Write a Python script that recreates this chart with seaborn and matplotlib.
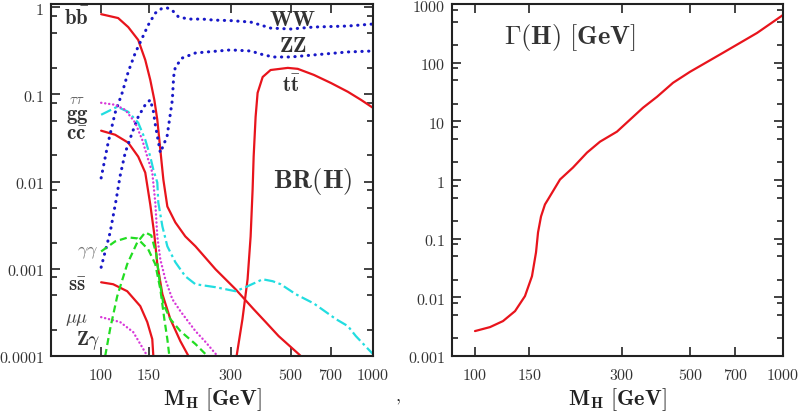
import matplotlib
matplotlib.use('Agg')
import matplotlib.pyplot as plt
import seaborn as sns
from matplotlib.ticker import FixedLocator, NullLocator, LogLocator, NullFormatter

# --- branching ratios BR(H) (M_H in GeV) ---
m_bb = [100, 115.5, 125.8, 136.9, 145.3, 151.6, 156.9, 160.9, 163.7, 166.5, 169.4, 175.2, 187.5,
        204, 222.3, 263.5, 312.2, 363.9, 402.9, 449.8, 533.3, 542]
br_bb = [0.83, 0.749, 0.59, 0.42, 0.248, 0.1465, 0.0865, 0.0511, 0.0302, 0.0178, 0.0105, 0.00518,
         0.0034, 0.00235, 0.00181, 9.87e-4, 5.83e-4, 3.44e-4, 2.45e-4, 1.69e-4, 1.05e-4, 1e-4]

m_cc = [100, 112.6, 125.8, 136.9, 145.3, 151.6, 156.9, 160.9, 168, 179.7, 195.6, 209.5]
br_cc = [0.0383, 0.0344, 0.0279, 0.0193, 0.01267, 0.00546, 0.00248, 0.00113, 5.11e-4, 2.65e-4,
         1.48e-4, 1e-4]

m_ss = [100, 110.7, 124.7, 139.3, 147.8, 154.2, 155.6]
br_ss = [7.0e-4, 6.65e-4, 5.53e-4, 3.73e-4, 2.45e-4, 1.56e-4, 1e-4]

m_tt = [315, 331, 345.7, 354.7, 360.7, 363.9, 370, 376.3, 392.8, 420, 485.9, 528.7, 606, 700,
        808, 903, 1000]
br_tt = [1e-4, 2.65e-4, 7.6e-4, 2.35e-3, 8.1e-3, 0.0193, 0.0553, 0.104, 0.158, 0.19, 0.201,
         0.196, 0.167, 0.135, 0.107, 0.0865, 0.070]

m_ww = [100, 106.1, 112.6, 119.5, 125.8, 133.5, 141.6, 149, 158.2, 167.5, 174.8, 182.3, 192.3,
        209.4, 235.9, 259, 300, 354.7, 386.2, 420.4, 498.3, 606, 808.6, 1000]
br_ww = [0.011, 0.0279, 0.0615, 0.104, 0.181, 0.298, 0.442, 0.623, 0.854, 0.97, 0.98, 0.924,
         0.775, 0.729, 0.729, 0.71, 0.70, 0.674, 0.623, 0.575, 0.561, 0.591, 0.607, 0.64]

m_zz = [100, 107.9, 113.6, 117.5, 122.6, 130.1, 136.9, 145.3, 151.6, 155.5, 158.2, 165.1, 174.8,
        182.8, 184.8, 187.5, 199, 222.3, 299.2, 354.7, 396.2, 431.3, 498.3, 606, 808.6, 1000]
br_zz = [0.00104, 0.00261, 0.00622, 0.0117, 0.0214, 0.0363, 0.0553, 0.0759, 0.0865, 0.065,
         0.045, 0.0214, 0.033, 0.0865, 0.16, 0.206, 0.261, 0.298, 0.323, 0.314, 0.283, 0.268,
         0.268, 0.283, 0.306, 0.314]

m_gg = [100, 114.6, 125.8, 136.9, 145.3, 151.6, 155.6, 160.9, 162.3, 168, 175.2, 187.5, 204,
        222.3, 263.5, 312.2, 339.7, 392.8, 427.6, 457.7, 519.9, 606, 730.3, 808.6, 865, 1000]
br_gg = [0.0583, 0.072, 0.063, 0.0472, 0.0302, 0.0193, 0.0137, 0.00975, 0.00575, 0.00306,
         0.00181, 0.00119, 8.2e-4, 6.65e-4, 6.15e-4, 5.53e-4, 6.15e-4, 7.58e-4, 7.2e-4, 6.65e-4,
         5.11e-4, 4.0e-4, 2.65e-4, 2.2e-4, 1.69e-4, 1.05e-4]

m_tau = [100, 112.6, 122.6, 133.5, 141.6, 147.8, 154.2, 158.2, 160.9, 165.1, 172.2, 182.8, 195.6,
         222.3, 242, 267.9]
br_tau = [0.08, 0.0759, 0.0665, 0.0472, 0.0302, 0.0193, 0.0127, 0.00575, 0.00235, 0.00128,
          7.58e-4, 4.48e-4, 3.27e-4, 1.93e-4, 1.45e-4, 1e-4]

m_mu = [100, 117.5, 131.2, 142.9, 147.8]
br_mu = [2.79e-4, 2.45e-4, 1.88e-4, 1.2e-4, 1e-4]

m_gaga = [100, 112.6, 125.8, 135.9, 149, 158.2, 165.1, 170.8, 175.2, 178.2]
br_gaga = [0.00158, 0.00206, 0.00229, 0.00223, 0.00167, 0.00113, 5.83e-4, 2.65e-4, 1.56e-4, 1e-4]

m_zga = [103.5, 107.9, 114.6, 124.7, 135.8, 145.3, 152.9, 159.6, 163.7, 169.4, 179.7, 195.6,
         222.3, 246]
br_zga = [1e-4, 2.04e-4, 4.85e-4, 0.00113, 0.00201, 0.00261, 0.00241, 0.00147, 7.58e-4, 3.93e-4,
          2.65e-4, 1.93e-4, 1.37e-4, 1e-4]

# --- total width Gamma(H) in GeV ---
m_width = [100, 111.9, 123.3, 134.9, 145.3, 153.1, 157.8, 160.2, 163.8, 168.7, 172.6, 188.8, 208,
           231, 254.6, 289, 351.3, 389.9, 439.5, 498.8, 638, 823.6, 1000]
gamma_h = [0.00266, 0.00311, 0.00394, 0.00582, 0.0105, 0.0229, 0.0585, 0.128, 0.239, 0.383,
           0.466, 1.02, 1.63, 2.93, 4.5, 6.67, 17.1, 26.2, 45.4, 69.8, 147, 321, 650]

x_ticks = [100, 150, 300, 500, 700, 1000]
br_ticks = [1e-4, 1e-3, 1e-2, 1e-1, 1]
br_labels = ['0.0001', '0.001', '0.01', '0.1', '1']
w_ticks = [1e-3, 1e-2, 1e-1, 1, 10, 100, 1000]
w_labels = ['0.001', '0.01', '0.1', '1', '10', '100', '1000']

sns.set_style('ticks')
plt.rcParams['mathtext.fontset'] = 'cm'
plt.rcParams['font.family'] = ['DejaVu Serif']

RED = '#e8141c'
BLUE = '#1818c8'
CYAN = '#22dde0'
MAGENTA = '#d838d8'
GREEN = '#22dd22'
INK = '#222222'


def mt(s):
    return r'$\mathrm{' + s + '}$'


def style_axis(ax, yticks, ylabels, xlim, ylim):
    ax.set_xscale('log')
    ax.set_yscale('log')
    ax.set_xlim(*xlim)
    ax.set_ylim(*ylim)
    ax.xaxis.set_major_locator(FixedLocator(x_ticks))
    ax.xaxis.set_minor_locator(NullLocator())
    ax.set_xticks(x_ticks, labels=[mt(str(v)) for v in x_ticks])
    ax.set_yticks(yticks, labels=[mt(s) for s in ylabels])
    ax.yaxis.set_minor_locator(LogLocator(base=10, subs=(2, 5, 8), numticks=30))
    ax.yaxis.set_minor_formatter(NullFormatter())
    ax.tick_params(which='both', direction='in', top=True, right=True, width=1.2,
                   color=INK, labelcolor='#333333', labelsize=11.5)
    ax.tick_params(which='major', length=6.5)
    ax.tick_params(which='minor', length=4.5)
    ax.tick_params(axis='y', pad=5)
    ax.tick_params(axis='x', pad=7)
    for sp in ax.spines.values():
        sp.set_linewidth(1.5)
        sp.set_color(INK)
    ax.set_xlabel(r'$\mathbf{M_H\ [GeV]}$', fontsize=16, color=INK, labelpad=2)
    ax.set_ylabel('')


fig = plt.figure(figsize=(8.02, 4.14), dpi=100)
ax1 = fig.add_axes([51 / 802, 57 / 414, 322 / 802, 352.5 / 414])
ax2 = fig.add_axes([452 / 802, 57 / 414, 331 / 802, 352.5 / 414])

style_axis(ax1, br_ticks, br_labels, (65.4, 1000), (1e-4, 1.1))
style_axis(ax2, w_ticks, w_labels, (84.2, 1000), (1e-3, 1.02e3))

solid = dict(linestyle='-', lw=1.6)
dotted = dict(linestyle=(0, (0.1, 2.1)), lw=2.2, dash_capstyle='round')
fine_dot = dict(linestyle=(0, (0.1, 1.6)), lw=1.7, dash_capstyle='round')
dashed = dict(linestyle=(0, (3.2, 1.8)), lw=1.6)
dashdot = dict(linestyle=(0, (5, 1.6, 1.2, 1.6)), lw=1.6)

curves = [
    (m_bb, br_bb, RED, solid),
    (m_cc, br_cc, RED, solid),
    (m_ss, br_ss, RED, solid),
    (m_tt, br_tt, RED, solid),
    (m_ww, br_ww, BLUE, dotted),
    (m_zz, br_zz, BLUE, dotted),
    (m_gg, br_gg, CYAN, dashdot),
    (m_tau, br_tau, MAGENTA, fine_dot),
    (m_mu, br_mu, MAGENTA, fine_dot),
    (m_gaga, br_gaga, GREEN, dashed),
    (m_zga, br_zga, GREEN, dashed),
]
for m, br, col, st in curves:
    sns.lineplot(x=m, y=br, ax=ax1, color=col, estimator=None, sort=False, **st)

sns.lineplot(x=m_width, y=gamma_h, ax=ax2, color=RED, estimator=None, sort=False, **solid)

# channel labels
lab = dict(ha='center', va='center', color='#333333')
ax1.text(81.5, 0.77, r'$\mathbf{b\bar{b}}$', fontsize=15, **lab)
ax1.text(81.5, 0.089, r'$\tau\tau$', fontsize=10.5, ha='center', va='center', color='#666666')
ax1.text(81.5, 0.057, r'$\mathbf{gg}$', fontsize=15, **lab)
ax1.text(81.5, 0.036, r'$\mathbf{c\bar{c}}$', fontsize=15, **lab)
ax1.text(88.8, 0.0016, r'$\gamma\gamma$', fontsize=13, ha='center', va='center', color='#777777')
ax1.text(81.5, 6.6e-4, r'$\mathbf{s\bar{s}}$', fontsize=15, **lab)
ax1.text(81.5, 2.75e-4, r'$\mu\mu$', fontsize=13, ha='center', va='center', color='#444444')
ax1.text(89.5, 1.55e-4, r'$\mathbf{Z}\gamma$', fontsize=14, **lab)
ax1.text(507, 0.74, r'$\mathbf{WW}$', fontsize=16, **lab)
ax1.text(507, 0.37, r'$\mathbf{ZZ}$', fontsize=16, **lab)
ax1.text(502, 0.13, r'$\mathbf{t\bar{t}}$', fontsize=15, **lab)
ax1.text(600, 0.0102, r'$\mathbf{BR(H)}$', fontsize=19, **lab)

ax2.text(0.356, 0.907, r'$\mathbf{\Gamma(H)\ [GeV]}$', transform=ax2.transAxes,
         fontsize=19, **lab)

fig.text(398 / 802, 1 - 398 / 414, r'$,$', fontsize=13, ha='center', va='center', color=INK)

fig.savefig('out.png', dpi=100)
